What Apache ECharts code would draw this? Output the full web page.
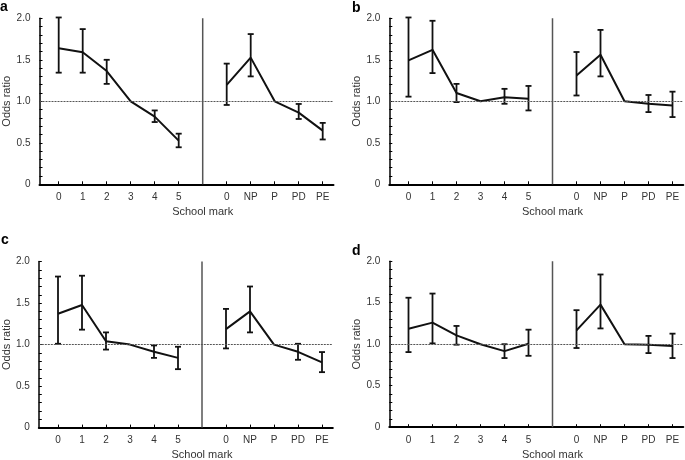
<!DOCTYPE html>
<html>
<head>
<meta charset="utf-8">
<script src="https://cdn.jsdelivr.net/npm/echarts@6/dist/echarts.min.js"></script>
<style>
  html, body { margin: 0; padding: 0; background: #fff; }
  #chart { width: 685px; height: 460px; }
</style>
</head>
<body>
<div id="chart"></div>
<script>
// tick labels
const leftMarks = ['0', '1', '2', '3', '4', '5']
const rightMarks = ['0', 'NP', 'P', 'PD', 'PE']

// panel a
const aLeftOR = [1.64, 1.59, 1.365, 1.0, 0.815, 0.526]
const aLeftLow = [1.345, 1.345, 1.21, null, 0.75, 0.446]
const aLeftHigh = [2.01, 1.87, 1.50, null, 0.89, 0.61]
const aRightOR = [1.197, 1.526, 1.0, 0.863, 0.647]
const aRightLow = [0.956, 1.30, null, 0.787, 0.54]
const aRightHigh = [1.454, 1.81, null, 0.968, 0.74]

// panel b
const bLeftOR = [1.494, 1.62, 1.10, 1.0, 1.05, 1.03]
const bLeftLow = [1.056, 1.34, 0.99, null, 0.97, 0.89]
const bLeftHigh = [2.01, 1.97, 1.21, null, 1.15, 1.185]
const bRightOR = [1.31, 1.56, 1.0, 0.97, 0.95]
const bRightLow = [1.07, 1.30, null, 0.87, 0.81]
const bRightHigh = [1.594, 1.86, null, 1.076, 1.116]

// panel c
const cLeftOR = [1.372, 1.477, 1.04, 1.0, 0.913, 0.84]
const cLeftLow = [1.01, 1.18, 0.94, null, 0.84, 0.704]
const cLeftHigh = [1.82, 1.83, 1.147, null, 0.99, 0.974]
const cRightOR = [1.187, 1.40, 1.0, 0.913, 0.785]
const cRightLow = [0.954, 1.147, null, 0.817, 0.668]
const cRightHigh = [1.43, 1.70, null, 1.01, 0.91]

// panel d
const dLeftOR = [1.187, 1.26, 1.107, 1.0, 0.917, 1.006]
const dLeftLow = [0.905, 1.01, 0.994, null, 0.833, 0.86]
const dLeftHigh = [1.56, 1.61, 1.22, null, 1.0, 1.175]
const dRightOR = [1.167, 1.477, 1.0, 0.994, 0.978]
const dRightLow = [0.954, 1.19, null, 0.893, 0.833]
const dRightHigh = [1.41, 1.84, null, 1.10, 1.127]

const panels = [
  { tag: 'a', tagX: 0, tagY: 0, left: 39.5, top: 18.3, lOR: aLeftOR, lLo: aLeftLow, lHi: aLeftHigh, rOR: aRightOR, rLo: aRightLow, rHi: aRightHigh },
  { tag: 'b', tagX: 352, tagY: 1, left: 389.3, top: 18.3, lOR: bLeftOR, lLo: bLeftLow, lHi: bLeftHigh, rOR: bRightOR, rLo: bRightLow, rHi: bRightHigh },
  { tag: 'c', tagX: 1, tagY: 233, left: 38.8, top: 261.6, lOR: cLeftOR, lLo: cLeftLow, lHi: cLeftHigh, rOR: cRightOR, rLo: cRightLow, rHi: cRightHigh },
  { tag: 'd', tagX: 352, tagY: 244, left: 389.3, top: 261.2, lOR: dLeftOR, lLo: dLeftLow, lHi: dLeftHigh, rOR: dRightOR, rLo: dRightLow, rHi: dRightHigh }
]

const FONT = "'Liberation Sans', Arial, sans-serif"
const GRID_W = 294
const GRID_H = 166
const SEP = 6 // slot between the two groups
const rightStart = 7

const tickPos = leftMarks.map((m, i) => i).concat(rightMarks.map((m, i) => rightStart + i))
const labelAt = {}
leftMarks.forEach((m, i) => { labelAt[i] = m })
rightMarks.forEach((m, i) => { labelAt[rightStart + i] = m })

function errorBars(xs, lo, hi) {
  const out = []
  xs.forEach((x, i) => {
    if (lo[i] != null && hi[i] != null) out.push([x, lo[i], hi[i]])
  })
  return out
}

function renderBar(params, api) {
  const x = api.value(0)
  const lo = api.coord([x, api.value(1)])
  const hi = api.coord([x, api.value(2)])
  const cap = 3
  const style = { stroke: '#111', lineWidth: 1.8 }
  return {
    type: 'group',
    children: [
      { type: 'line', shape: { x1: lo[0], y1: lo[1], x2: hi[0], y2: hi[1] }, style: style },
      { type: 'line', shape: { x1: lo[0] - cap, y1: lo[1], x2: lo[0] + cap, y2: lo[1] }, style: style },
      { type: 'line', shape: { x1: hi[0] - cap, y1: hi[1], x2: hi[0] + cap, y2: hi[1] }, style: style }
    ]
  }
}

const grid = []
const xAxis = []
const yAxis = []
const series = []
const title = []

panels.forEach((p, k) => {
  grid.push({ left: p.left, top: p.top, width: GRID_W, height: GRID_H })
  xAxis.push({
    type: 'value',
    gridIndex: k,
    min: -0.8,
    max: 11.45,
    axisLine: { show: true, onZero: false, lineStyle: { color: '#000', width: 2 } },
    axisTick: { show: true, inside: true, length: 3, customValues: tickPos, lineStyle: { color: '#000', width: 1 } },
    axisLabel: {
      customValues: tickPos,
      formatter: v => labelAt[v] || '',
      color: '#333',
      fontSize: 10,
      fontFamily: FONT,
      margin: 8
    },
    splitLine: { show: false }
  })
  yAxis.push({
    type: 'value',
    gridIndex: k,
    min: 0,
    max: 2,
    interval: 0.5,
    name: 'Odds ratio',
    nameLocation: 'middle',
    nameGap: 26,
    nameRotate: 90,
    nameTextStyle: { color: '#333', fontSize: 11, fontFamily: FONT },
    axisLine: { show: true, onZero: false, lineStyle: { color: '#000', width: 1.5 } },
    axisTick: { show: true, inside: true, length: 3, lineStyle: { color: '#000' } },
    minorTick: { show: true, splitNumber: 5, length: 3, lineStyle: { color: '#000' } },
    axisLabel: {
      formatter: v => (v === 0 ? '0' : v.toFixed(1)),
      color: '#333',
      fontSize: 10,
      fontFamily: FONT,
      margin: 9
    },
    splitLine: { show: false }
  })

  const lx = leftMarks.map((m, i) => i)
  const rx = rightMarks.map((m, i) => rightStart + i)

  // separator between school mark groups, with dotted reference at OR = 1
  series.push({
    type: 'line',
    xAxisIndex: k,
    yAxisIndex: k,
    data: [[SEP, 0], [SEP, 2]],
    symbol: 'none',
    silent: true,
    lineStyle: { color: '#555', width: 1.5 },
    markLine: {
      silent: true,
      symbol: 'none',
      label: { show: false },
      lineStyle: { color: '#555', type: [2, 1], width: 1 },
      data: [{ yAxis: 1 }]
    }
  })
  series.push({
    type: 'line',
    xAxisIndex: k,
    yAxisIndex: k,
    data: lx.map((x, i) => [x, p.lOR[i]]),
    symbol: 'none',
    lineStyle: { color: '#111', width: 2 }
  })
  series.push({
    type: 'line',
    xAxisIndex: k,
    yAxisIndex: k,
    data: rx.map((x, i) => [x, p.rOR[i]]),
    symbol: 'none',
    lineStyle: { color: '#111', width: 2 }
  })
  series.push({
    type: 'custom',
    xAxisIndex: k,
    yAxisIndex: k,
    clip: false,
    renderItem: renderBar,
    data: errorBars(lx, p.lLo, p.lHi).concat(errorBars(rx, p.rLo, p.rHi))
  })

  title.push({
    text: p.tag,
    left: p.tagX,
    top: p.tagY,
    padding: 0,
    textStyle: { fontSize: 14, fontWeight: 'bold', color: '#000', fontFamily: FONT }
  })
  title.push({
    text: 'School mark',
    left: p.left + (SEP + 0.8) * 24,
    top: p.top + GRID_H + 22,
    padding: 0,
    textAlign: 'center',
    textStyle: { fontSize: 11, fontWeight: 'normal', color: '#333', fontFamily: FONT }
  })
})

const chart = echarts.init(document.getElementById('chart'))
chart.setOption({
  backgroundColor: '#fff',
  animation: false,
  title: title,
  grid: grid,
  xAxis: xAxis,
  yAxis: yAxis,
  series: series
})
</script>
</body>
</html>
